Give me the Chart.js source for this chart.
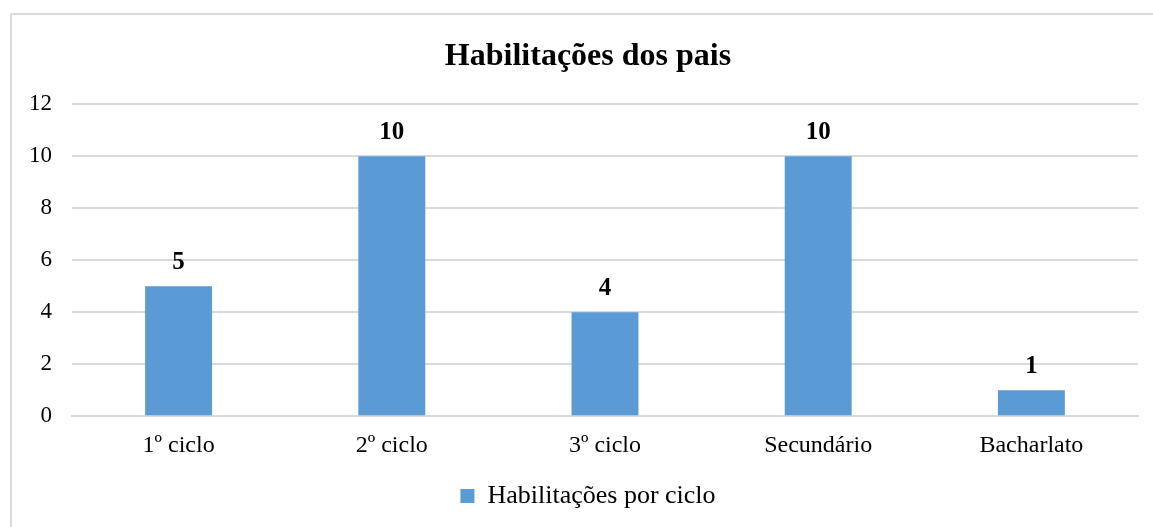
<html>
 <head>
   <meta charset="utf-8" />
   <title>Habilitações dos pais</title>
   <style>
     body { margin: 0; background: #fff; }
     #frame { position: absolute; left: 10px; top: 13px; width: 1160px; height: 540px;
              border-left: 2px solid #d9d9d9; border-top: 2px solid #d9d9d9; }
     #wrap { position: absolute; left: 0; top: 0; width: 1153px; height: 527px; }
   </style>
 </head>
 <body>
<div id="frame"></div>
<div id="wrap">
  <canvas id="hab_chart"></canvas>
</div>

<script src="https://cdn.jsdelivr.net/npm/chart.js"></script>
<script>

listCiclo = ["1º ciclo", "2º ciclo", "3º ciclo", "Secundário", "Bacharlato"];
listValor = [5, 10, 4, 10, 1];
listTicks = [0, 2, 4, 6, 8, 10, 12];

var fonte = "'Liberation Serif', 'Times New Roman', serif";

// labels drawn above each bar
var rotulos = {
  id: 'rotulos',
  afterDatasetsDraw: function(chart) {
    var c = chart.ctx;
    var meta = chart.getDatasetMeta(0);
    c.save();
    c.font = 'bold 25px ' + fonte;
    c.fillStyle = '#000';
    c.textAlign = 'center';
    c.textBaseline = 'middle';
    meta.data.forEach(function(bar, i) {
      c.fillText(listValor[i], bar.x, bar.y - 24);
    });
    c.restore();
  }
};

var ctx = document.getElementById('hab_chart');
var data = {
    labels: listCiclo,
    datasets: [{
        label: 'Habilitações por ciclo',
        data: listValor,
        backgroundColor: '#5b9bd5',
        barPercentage: 0.314,
        categoryPercentage: 1
    }]
};

var options = {
    responsive: true,
    maintainAspectRatio: false,
    animation: false,
    layout: { padding: { top: 20, left: 23, right: 0, bottom: 8 } },
    plugins: {
        title: {
            display: true,
            text: 'Habilitações dos pais',
            color: '#000',
            font: { family: fonte, size: 32, weight: 'bold' },
            padding: { top: 18, bottom: 28 }
        },
        legend: {
            position: 'bottom',
            labels: {
                color: '#000',
                font: { family: fonte, size: 26 },
                boxWidth: 14,
                boxHeight: 14,
                padding: 16
            }
        },
        tooltip: { enabled: false }
    },
    scales: {
        x: {
            grid: { display: false },
            border: { color: '#d9d9d9', width: 2 },
            ticks: { color: '#000', font: { family: fonte, size: 24 }, padding: 7 }
        },
        y: {
            min: 0,
            max: 12,
            afterBuildTicks: function(axis) {
                axis.ticks = listTicks.map(function(v) { return { value: v }; });
            },
            afterFit: function(axis) { axis.width = 49; },
            grid: { color: '#d9d9d9', lineWidth: 2, drawTicks: false },
            border: { display: false },
            ticks: { color: '#000', font: { family: fonte, size: 23 }, padding: 20 }
        },
        // empty axis on the right, only keeps the plot off the edge
        yDir: {
            position: 'right',
            afterFit: function(axis) { axis.width = 15; },
            grid: { display: false },
            border: { display: false },
            ticks: { display: false }
        }
    }
};

var hab_chart = new Chart(ctx, {
    type: 'bar',
    data: data,
    options: options,
    plugins: [rotulos]
});

</script>
</body>
</html>
